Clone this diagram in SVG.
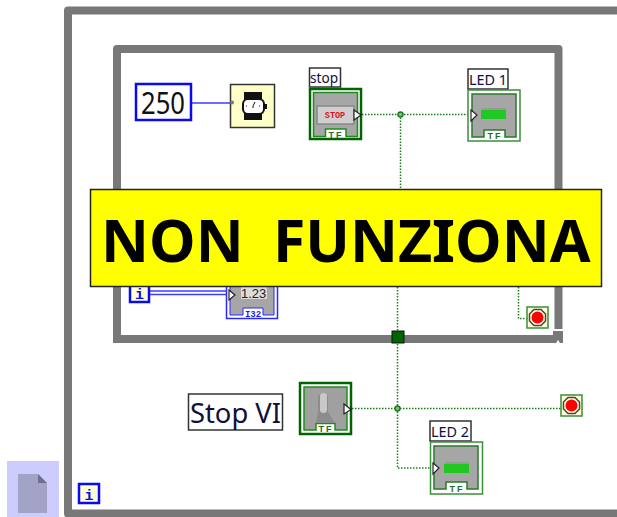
<svg xmlns="http://www.w3.org/2000/svg" width="617" height="517" viewBox="0 0 617 517">
<style>
.loop{fill:none;stroke:#787878;stroke-linejoin:round}
.w{fill:none;stroke:#1f7a1f;stroke-width:1.5;stroke-dasharray:1.5 1.5}
.b{fill:none;stroke:#3c3cff;stroke-width:1.5}
.lab{fill:#fff;stroke:#333;stroke-width:1.5}
text{font-family:"Noto Sans","DejaVu Sans",sans-serif}
.l{font-size:15px;fill:#10103a}
.tf{font-size:9px;font-weight:bold;fill:#1f6f1f;letter-spacing:2px;font-family:"Liberation Sans",sans-serif}
.i{font-size:15px;font-weight:bold;fill:#0a0af0;font-family:"Liberation Mono",monospace}
.term{fill:#fff;stroke:#222;stroke-width:1.2}
.j{fill:#7fc27f;stroke:#1f7a1f;stroke-width:1.5}
.gr{fill:#a6a6a6;stroke:#2a7a2a;stroke-width:1.5}
.s{fill:#ffffd8;stroke:#3a8f3a;stroke-width:1.500}
.o{fill:#ffffd8;stroke:#444;stroke-width:1.500}
</style>
<rect width="617" height="517" fill="#fff"/>
<g id="outer-loop"><path class="loop" stroke-width="8" d="M617 10.500H68V513.500H617"/></g>
<g id="inner-loop"><path class="loop" stroke-width="8" d="M117 339V49H558.500V329"/><path d="M113 335H553V331H563V343H113Z" fill="#787878"/><path d="M556 343l2-3 2 3z" fill="#fff"/></g>
<g id="connectors">
<path class="b" d="M192 103H230"/>
<path class="w" d="M362 114.500H470M400.500 114.500V190M397.500 287V408.500M352 408.500H561M397.500 408.500V468H432M518.500 287V318.500H527"/>
<path d="M150 291H229M150 294.500H229" fill="none" stroke="#3c3cff" stroke-width="1.300"/>
<circle class="j" cx="400.500" cy="114.500" r="2.500"/>
<circle class="j" cx="397.500" cy="408.500" r="2.500"/>
</g>
<g id="const-250"><rect x="136" y="84" width="55" height="36" fill="#fff" stroke="#0a0af0" stroke-width="2.500"/><text x="141" y="114" font-size="30" textLength="44" lengthAdjust="spacingAndGlyphs" fill="#111">250</text></g>
<g id="wait"><rect x="230.500" y="84.500" width="44" height="43" fill="#ffffc8" stroke="#333" stroke-width="1.500"/><rect x="244" y="92" width="18" height="9" fill="#111"/><rect x="244" y="111" width="18" height="9" fill="#111"/><rect x="243" y="99" width="21" height="15" rx="5" fill="#fff" stroke="#111" stroke-width="2"/><path d="M253 106l2-4M253 106v2M246 106h1M259 106h1" stroke="#111" stroke-width="1"/><rect x="264" y="104" width="3" height="5" fill="#111"/><circle cx="232" cy="102.500" r="2" fill="#777"/></g>
<g id="stop">
<rect class="lab" x="309.500" y="68" width="31" height="19"/><text class="l" x="310" y="83" textLength="28" lengthAdjust="spacingAndGlyphs">stop</text>
<rect x="310" y="89" width="51" height="50" fill="#fff" stroke="#006400" stroke-width="2.500"/>
<path class="gr" d="M313.500 92.500H357.500V136.500H346V129H325.500V136.500H313.500Z" style="stroke:#1f8a1f"/>
<rect x="317" y="106" width="37" height="18" fill="#cfcfcf" stroke="#888" stroke-width="1.500"/><text x="335" y="118" text-anchor="middle" style="font-size:8.500px;font-weight:bold;fill:#e01020;font-family:'Liberation Mono',monospace">STOP</text>
<text class="tf" x="336" y="137.500" text-anchor="middle">TF</text>
<path class="term" d="M354 110L361 115L354 120Z"/>
</g>
<g id="led1">
<rect class="lab" x="468" y="69" width="40" height="20"/><text class="l" x="469" y="85" textLength="38" lengthAdjust="spacingAndGlyphs">LED 1</text>
<rect x="468" y="90" width="52" height="51" fill="#fff" stroke="#3a8f3a" stroke-width="1.500"/>
<path class="gr" d="M472 94H516V137H505V130H484V137H472Z"/>
<rect x="481" y="110" width="25" height="9" fill="#22c822"/><rect x="482" y="108" width="24" height="2" fill="#999"/>
<text class="tf" x="495" y="138.500" text-anchor="middle">TF</text>
<path class="term" d="M471 110L477 115L471 121Z"/>
</g>
<g id="iter-inner"><rect x="130" y="284" width="19" height="18" fill="#ffffd8" stroke="#0a0af0" stroke-width="2.500"/><text class="i" x="139.500" y="299" text-anchor="middle">i</text></g>
<g id="indicator">
<rect x="226.500" y="270" width="51" height="48.500" fill="#fff" stroke="#2a2aff" stroke-width="1.500"/>
<path d="M230 270H274V315H263V308H243V315H230Z" fill="#a6a6a6" stroke="#2a2aff" stroke-width="1"/>
<rect x="241" y="285" width="26" height="14" fill="#ddd"/><text x="241" y="298" style="font-size:13px;fill:#222;font-family:'Liberation Sans',sans-serif">1.23</text>
<text x="253" y="317" text-anchor="middle" style="font-size:9px;font-weight:bold;fill:#1a1aff;font-family:'Liberation Mono',monospace">I32</text>
<path class="term" d="M229 290L235 295L229 300Z"/>
</g>
<g id="stop-cond-inner"><rect class="s" x="527" y="307" width="21" height="21"/><path class="o" d="M534 309.500h7l4.500 4.500v7l-4.500 4.500h-7l-4.500-4.500v-7z"/><circle cx="537.500" cy="317.500" r="6" fill="#f00"/></g>
<g id="tunnel"><rect x="392" y="331" width="12" height="12" fill="#006400" stroke="#111" stroke-width="1"/></g>
<g id="stop-vi">
<rect class="lab" x="188.500" y="394" width="94" height="36"/><text x="190" y="423" font-size="28" textLength="91" lengthAdjust="spacingAndGlyphs" fill="#10103a">Stop VI</text>
<rect x="300" y="383" width="51" height="51" fill="#fff" stroke="#006400" stroke-width="2.500"/>
<path class="gr" d="M304 387H347V430H335V423.500H316V430H304Z" style="fill:#a0a0a0;stroke:#1f8a1f"/>
<path d="M318 396q5-4 10 0v16l7 11H316l2-11z" fill="#8c8c8c"/><rect x="320" y="393" width="7" height="20" rx="3.500" fill="#c8c8c8"/>
<text class="tf" x="326" y="431.500" text-anchor="middle">TF</text>
<path class="term" d="M344 404L351 409.500L344 414Z"/>
</g>
<g id="stop-cond-outer"><rect class="s" x="561" y="395" width="21" height="21"/><path class="o" d="M568 397.500h7l4.500 4.500v7l-4.500 4.500h-7l-4.500-4.500v-7z"/><circle cx="571.500" cy="405.500" r="6" fill="#f00"/></g>
<g id="led2">
<rect class="lab" x="430" y="421" width="41" height="20"/><text class="l" x="431" y="437" textLength="38" lengthAdjust="spacingAndGlyphs">LED 2</text>
<rect x="430.500" y="442" width="52" height="52" fill="#fff" stroke="#3a8f3a" stroke-width="1.500"/>
<path class="gr" d="M434 446H478V489H467V482H446V489H434Z"/>
<rect x="444" y="464" width="25" height="9" fill="#22c822"/><rect x="445" y="462" width="24" height="2" fill="#999"/>
<text class="tf" x="457" y="491.500" text-anchor="middle">TF</text>
<path class="term" d="M433 463L439 468L433 474Z"/>
</g>
<g id="iter-outer"><rect x="79" y="484" width="20" height="19" fill="#ffffd8" stroke="#0a0af0" stroke-width="2.500"/><text class="i" x="89" y="500" text-anchor="middle">i</text></g>
<g id="doc-icon"><rect x="7" y="461" width="52" height="56" fill="#ccccff"/><path d="M18 474H38L47 483V513H18Z" fill="#a3a3c8"/><path d="M38 474L47 483H38Z" fill="#70708c"/></g>
<g id="banner"><rect x="90.500" y="189.500" width="511" height="97" fill="#ff0" stroke="#222" stroke-width="1.500"/><text x="101" y="262" font-size="59" font-weight="bold" word-spacing="14" style="font-family:'Noto Sans',sans-serif;fill:#000">NON FUNZIONA</text></g>
</svg>
